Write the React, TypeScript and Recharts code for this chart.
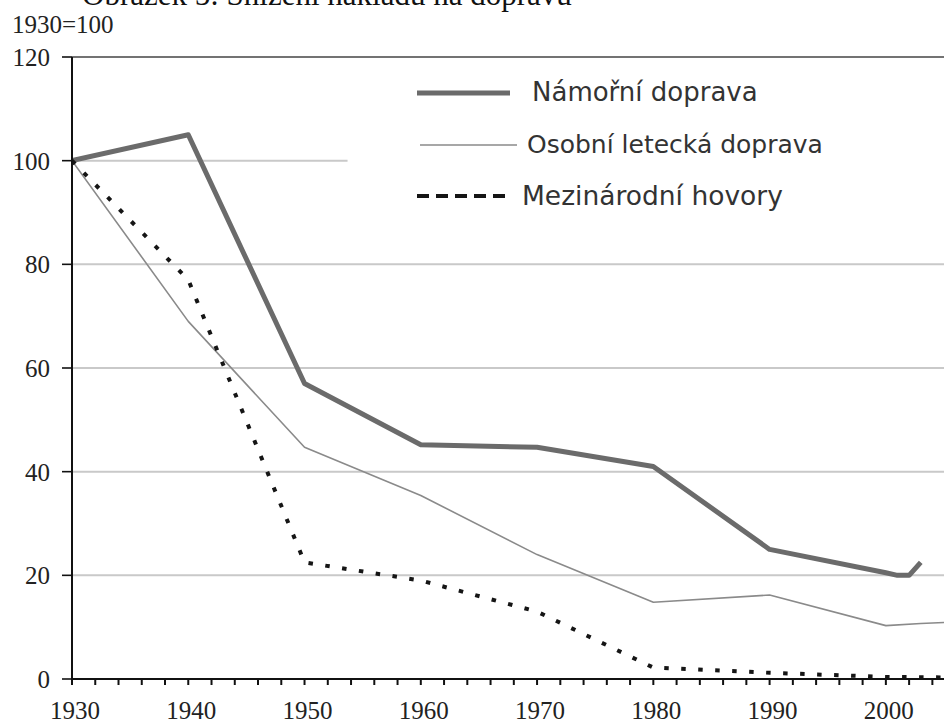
import React from 'react';
import { LineChart, Line, XAxis, YAxis, CartesianGrid, ReferenceLine } from 'recharts';

// ---- data ----
const seaYears = [1930, 1940, 1950, 1960, 1970, 1980, 1990, 2000, 2001, 2002, 2003];
const seaValues = [100, 105, 57, 45.2, 44.7, 41, 25, 20.5, 20, 20, 22.5];

const airYears = [1930, 1940, 1950, 1960, 1970, 1980, 1990, 2000, 2003, 2005];
const airValues = [100, 69, 44.7, 35.4, 24, 14.8, 16.2, 10.3, 10.7, 10.9];

const callYears = [1930, 1940, 1950, 1960, 1970, 1980, 1990, 2000, 2005];
const callValues = [100, 77, 22.5, 19, 13, 2.2, 1.2, 0.4, 0.3];

const seriesNames = ['Námořní doprava', 'Osobní letecká doprava', 'Mezinárodní hovory'];
const yTicks = [0, 20, 40, 60, 80, 100, 120];
const gridValues = [20, 40, 60, 80];
const xTicks: number[] = [];
for (let y = 1930; y <= 2004; y += 2) xTicks.push(y);

const titleText = 'Obrázek 5: Snížení nákladů na dopravu';
const indexText = '1930=100';

const toData = (years: number[], values: number[]) => years.map((year, i) => ({ year, v: values[i] }));

const seriesStyles = [
  { stroke: '#6b6b6b', width: 5, dash: undefined as string | undefined, legendDash: undefined as string | undefined },
  { stroke: '#8a8a8a', width: 1.6, dash: undefined, legendDash: undefined },
  { stroke: '#151515', width: 4, dash: '4.5 12.5', legendDash: '12 7' },
];
const seriesData = [toData(seaYears, seaValues), toData(airYears, airValues), toData(callYears, callValues)];

const serif = '"Liberation Serif", "Times New Roman", serif';
const sans = '"DejaVu Sans", Verdana, sans-serif';

const XTick = (props: any) => {
  const { x, y, payload } = props;
  if (payload.value % 10 !== 0) return null;
  return (
    <text x={x + 3} y={y} textAnchor="middle" dominantBaseline="hanging" fontFamily={serif} fontSize={25} fill="#222">
      {payload.value}
    </text>
  );
};

export default function App() {
  return (
    <div style={{ position: 'absolute', left: 0, top: 0, width: 944, height: 724, background: '#fff', overflow: 'hidden' }}>
      <LineChart width={944} height={724} margin={{ top: 57, right: 0, bottom: 0, left: 0 }}>
        <CartesianGrid vertical={false} horizontalValues={gridValues} stroke="#c9c9c9" strokeWidth={2} />
        <ReferenceLine
          segment={[{ x: 1930, y: 100 }, { x: 1953.7, y: 100 }]}
          stroke="#c9c9c9"
          strokeWidth={2}
        />
        <ReferenceLine y={120} stroke="#444" strokeWidth={1.6} />
        <XAxis
          dataKey="year"
          type="number"
          domain={[1930, 2005]}
          ticks={xTicks}
          interval={0}
          allowDataOverflow
          height={45}
          tickSize={6}
          tickMargin={16}
          axisLine={{ stroke: '#111', strokeWidth: 2 }}
          tickLine={{ stroke: '#111', strokeWidth: 2 }}
          tick={<XTick />}
        />
        <YAxis
          type="number"
          domain={[0, 120]}
          ticks={yTicks}
          width={72}
          tickSize={10}
          tickMargin={12}
          axisLine={{ stroke: '#111', strokeWidth: 2 }}
          tickLine={{ stroke: '#111', strokeWidth: 1.6 }}
          tick={{ fontFamily: serif, fontSize: 25, fill: '#222' }}
        />
        {seriesData.map((d, i) => (
          <Line
            key={seriesNames[i]}
            data={d}
            dataKey="v"
            name={seriesNames[i]}
            type="linear"
            stroke={seriesStyles[i].stroke}
            strokeWidth={seriesStyles[i].width}
            strokeDasharray={seriesStyles[i].dash}
            strokeLinejoin="round"
            dot={false}
            activeDot={false}
            isAnimationActive={false}
          />
        ))}
      </LineChart>
      <svg width={944} height={724} style={{ position: 'absolute', left: 0, top: 0, pointerEvents: 'none' }}>
        <text x={82} y={5} fontFamily={serif} fontSize={31} fill="#111">{titleText}</text>
        <text x={12} y={33} fontFamily={serif} fontSize={25} fill="#222">{indexText}</text>
        {seriesNames.map((name, i) => {
          const cy = [93, 145, 196][i];
          const x1 = [417, 420, 417][i];
          const x2 = [510, 517, 508][i];
          const tx = [532, 527, 522][i];
          const fs = [26, 25, 26.5][i];
          return (
            <g key={name}>
              <line x1={x1} x2={x2} y1={cy} y2={cy} stroke={seriesStyles[i].stroke} strokeWidth={seriesStyles[i].width} strokeDasharray={seriesStyles[i].legendDash} />
              <text x={tx} y={cy - 1} dominantBaseline="central" fontFamily={sans} fontSize={fs} fill="#333">{name}</text>
            </g>
          );
        })}
      </svg>
    </div>
  );
}
